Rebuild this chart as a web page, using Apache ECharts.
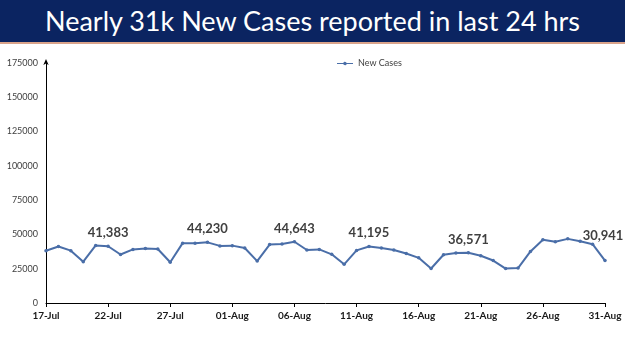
<!DOCTYPE html>
<html>
<head>
<meta charset="utf-8">
<script src="https://cdn.jsdelivr.net/npm/echarts@6/dist/echarts.min.js"></script>
<style>
  html, body { margin: 0; padding: 0; background: #fff; }
  #banner {
    position: absolute; left: 0; top: 0; width: 625px; height: 42px;
    background: #0b2461; border-bottom: 2px solid #d9a38a;
    color: #fff; font-family: Lato, "Open Sans", sans-serif; font-size: 27px;
    text-align: center; line-height: 42px;
  }
  #chart { position: absolute; left: 0; top: 0; width: 625px; height: 351px; }
</style>
</head>
<body>
<div id="chart"></div>
<div id="banner">Nearly 31k New Cases reported in last 24 hrs</div>
<script>
const dates = [
  "17-Jul", "18-Jul", "19-Jul", "20-Jul", "21-Jul", "22-Jul", "23-Jul", "24-Jul", "25-Jul", "26-Jul",
  "27-Jul", "28-Jul", "29-Jul", "30-Jul", "31-Jul", "01-Aug", "02-Aug", "03-Aug", "04-Aug", "05-Aug",
  "06-Aug", "07-Aug", "08-Aug", "09-Aug", "10-Aug", "11-Aug", "12-Aug", "13-Aug", "14-Aug", "15-Aug",
  "16-Aug", "17-Aug", "18-Aug", "19-Aug", "20-Aug", "21-Aug", "22-Aug", "23-Aug", "24-Aug", "25-Aug",
  "26-Aug", "27-Aug", "28-Aug", "29-Aug", "30-Aug", "31-Aug"
];
const newCases = [
  38079, 41157, 38164, 30093, 42015, 41383, 35342, 39097, 39742, 39361,
  29689, 43654, 43509, 44230, 41649, 41831, 40134, 30549, 42625, 42982,
  44643, 38628, 39070, 35499, 28204, 38353, 41195, 40120, 38667, 36083,
  32937, 25166, 35178, 36401, 36571, 34457, 30948, 25072, 25467, 37593,
  46164, 44658, 46759, 45083, 42909, 30941
];
// points that carry a value label, and how far above the point it sits
const labelled = { "22-Jul": 5, "30-Jul": 5, "06-Aug": 5, "12-Aug": 5, "20-Aug": 5, "31-Aug": 17 };

const chart = echarts.init(document.getElementById("chart"));

const seriesData = newCases.map((v, i) => {
  const off = labelled[dates[i]];
  if (off === undefined) return v;
  return {
    value: v,
    label: {
      show: true,
      position: "top",
      distance: off,
      offset: dates[i] === "31-Aug" ? [-2, 0] : [0, 0],
      formatter: (p) => p.value.toLocaleString("en-US"),
      fontFamily: "Lato, 'Open Sans', sans-serif",
      fontSize: 13,
      fontWeight: "bold",
      color: "#404040"
    }
  };
});

chart.setOption({
  animation: false,
  grid: { left: 46, right: 20, top: 63, bottom: 48 },
  legend: {
    top: 54,
    left: 332,
    itemWidth: 16,
    itemHeight: 6,
    itemGap: 4,
    textStyle: { fontFamily: "Lato, 'Open Sans', sans-serif", fontSize: 9, color: "#404040" },
    data: [{ name: "New Cases", icon: "path://M0,2.6H6.3A1.8,1.8 0 0 1 9.7,2.6H16V3.4H9.7A1.8,1.8 0 0 1 6.3,3.4H0Z" }]
  },
  xAxis: {
    type: "category",
    data: dates,
    boundaryGap: false,
    axisLine: { lineStyle: { color: "#000", width: 1 } },
    axisTick: { show: true, interval: 4, length: 4, lineStyle: { color: "#000" } },
    axisLabel: {
      interval: 4,
      margin: 8,
      fontFamily: "Lato, 'Open Sans', sans-serif",
      fontSize: 10,
      fontWeight: "bold",
      color: "#1a1a1a"
    },
    splitLine: { show: false }
  },
  yAxis: {
    type: "value",
    min: 0,
    max: 175000,
    interval: 25000,
    axisLine: {
      show: true,
      symbol: ["none", "arrow"],
      symbolSize: [4, 6],
      symbolOffset: [0, 4],
      lineStyle: { color: "#000", width: 1 }
    },
    axisTick: { show: false },
    axisLabel: {
      margin: 8,
      formatter: (v) => String(v),
      fontFamily: "Lato, 'Open Sans', sans-serif",
      fontSize: 9,
      color: "#404040"
    },
    splitLine: { show: false }
  },
  series: [{
    name: "New Cases",
    type: "line",
    data: seriesData,
    symbol: "circle",
    symbolSize: 3.5,
    lineStyle: { color: "#4a6ea8", width: 2 },
    itemStyle: { color: "#4a6ea8" }
  }]
});
</script>
</body>
</html>
